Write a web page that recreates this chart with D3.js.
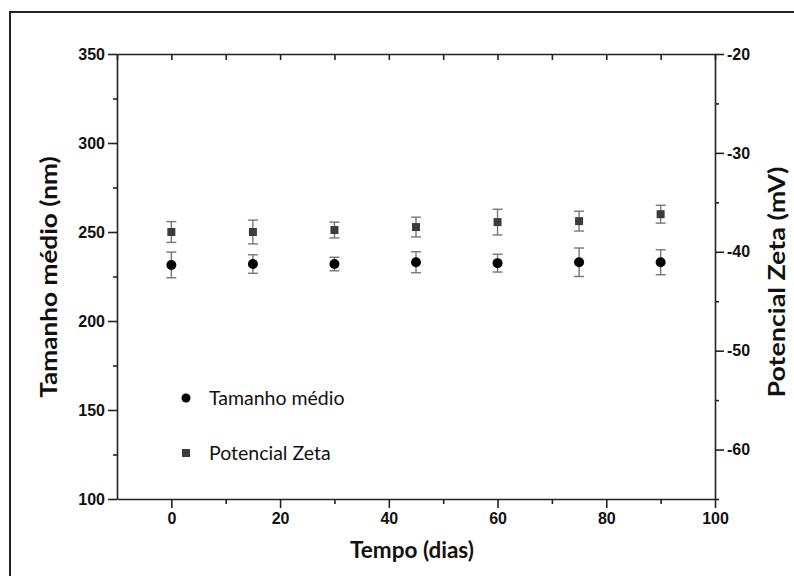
<!DOCTYPE html>
<html>
<head lang="pt">
    <meta charset="UTF-8">
    <title> Tamanho e potencial zeta </title>
    <script type="text/javascript" src="https://cdn.jsdelivr.net/npm/d3@7"></script>
    <style>
        body { margin: 0; background: #fff; }
    </style>
</head>
<body>
<div id="chart"></div>

<script>

    // data
    var dias       = [0, 15, 30, 45, 60, 75, 90];
    var tamanho    = [231.5, 232, 232, 233, 232.5, 233, 233];
    var tamanhoErr = [7.2, 5.2, 3.8, 5.9, 5, 8, 7];
    var zeta       = [-38.0, -38.0, -37.8, -37.5, -37.0, -36.9, -36.2];
    var zetaErr    = [1.05, 1.2, 0.8, 1.0, 1.3, 1.0, 0.9];

    var xTicks      = [0, 20, 40, 60, 80, 100];
    var xMinor      = [10, 30, 50, 70, 90];
    var yLeftTicks  = [100, 150, 200, 250, 300, 350];
    var yLeftMinor  = [125, 175, 225, 275, 325];
    var yRightTicks = [-60, -50, -40, -30, -20];
    var yRightMinor = [-65, -55, -45, -35, -25];

    var legendNames = ["Tamanho médio", "Potencial Zeta"];

    var W = 794, H = 576;
    var plotL = 117, plotR = 715, plotT = 54, plotB = 499;

    var svg = d3.select("#chart").append("svg")
            .attr("width", W)
            .attr("height", H);

    // outer frame (cut by the page edge on right and bottom)
    svg.append("rect")
            .attr("x", 10).attr("y", 12)
            .attr("width", 820).attr("height", 620)
            .style("fill", "none")
            .style("stroke", "#222")
            .style("stroke-width", 2);

    var x  = d3.scaleLinear().domain([-10, 100]).range([plotL, plotR]);
    var yL = d3.scaleLinear().domain([100, 350]).range([plotB, plotT]);
    var yR = d3.scaleLinear().domain([-65, -20]).range([plotB, plotT]);

    var fmt = function (d) { return String(d); };   // plain hyphen minus

    function styleAxis(g) {
        g.selectAll(".domain, .tick line").style("stroke", "#222").style("stroke-width", 1.6);
        g.selectAll(".tick text")
                .style("font-family", "'Liberation Sans', Arial, sans-serif")
                .style("font-weight", "bold")
                .style("font-size", "16px")
                .style("fill", "#111");
    }

    // minor ticks first
    svg.append("g").attr("transform", "translate(0," + plotB + ")")
            .call(d3.axisBottom(x).tickValues(xMinor).tickSize(5).tickFormat(""))
            .call(styleAxis)
            .select(".domain").remove();
    svg.append("g").attr("transform", "translate(" + plotL + ",0)")
            .call(d3.axisLeft(yL).tickValues(yLeftMinor).tickSize(4).tickFormat(""))
            .call(styleAxis)
            .select(".domain").remove();
    svg.append("g").attr("transform", "translate(" + plotR + ",0)")
            .call(d3.axisRight(yR).tickValues(yRightMinor).tickSize(4).tickFormat(""))
            .call(styleAxis)
            .select(".domain").remove();

    // top axis: inner ticks every 10 days, no labels
    svg.append("g").attr("transform", "translate(0," + plotT + ")")
            .call(d3.axisBottom(x).tickValues(d3.range(-10, 101, 10)).tickSize(6).tickSizeOuter(0).tickFormat(""))
            .call(styleAxis);

    // main axes
    svg.append("g").attr("transform", "translate(0," + plotB + ")")
            .call(d3.axisBottom(x).tickValues(xTicks).tickSize(9).tickSizeOuter(0).tickPadding(5).tickFormat(fmt))
            .call(styleAxis);
    svg.append("g").attr("transform", "translate(" + plotL + ",0)")
            .call(d3.axisLeft(yL).tickValues(yLeftTicks).tickSize(9).tickSizeOuter(0).tickPadding(3).tickFormat(fmt))
            .call(styleAxis);
    svg.append("g").attr("transform", "translate(" + plotR + ",0)")
            .call(d3.axisRight(yR).tickValues(yRightTicks).tickSize(9).tickSizeOuter(0).tickPadding(3).tickFormat(fmt))
            .call(styleAxis);

    // error bars + markers
    function errBars(vals, errs, y, cls) {
        var g = svg.append("g").attr("class", cls);
        var sel = g.selectAll("g").data(dias).enter().append("g");
        sel.append("line")
                .attr("x1", function (d) { return x(d); })
                .attr("x2", function (d) { return x(d); })
                .attr("y1", function (d, i) { return y(vals[i] - errs[i]); })
                .attr("y2", function (d, i) { return y(vals[i] + errs[i]); });
        sel.append("line")
                .attr("x1", function (d) { return x(d) - 5; })
                .attr("x2", function (d) { return x(d) + 5; })
                .attr("y1", function (d, i) { return y(vals[i] - errs[i]); })
                .attr("y2", function (d, i) { return y(vals[i] - errs[i]); });
        sel.append("line")
                .attr("x1", function (d) { return x(d) - 5; })
                .attr("x2", function (d) { return x(d) + 5; })
                .attr("y1", function (d, i) { return y(vals[i] + errs[i]); })
                .attr("y2", function (d, i) { return y(vals[i] + errs[i]); });
        g.selectAll("line").style("stroke", "#777").style("stroke-width", 1.4);
    }
    errBars(tamanho, tamanhoErr, yL, "err-tam");
    errBars(zeta, zetaErr, yR, "err-zeta");

    svg.append("g").selectAll("circle")
            .data(dias).enter().append("circle")
            .attr("cx", function (d) { return x(d); })
            .attr("cy", function (d, i) { return yL(tamanho[i]); })
            .attr("r", 5)
            .style("fill", "#000");

    svg.append("g").selectAll("rect")
            .data(dias).enter().append("rect")
            .attr("x", function (d) { return x(d) - 4; })
            .attr("y", function (d, i) { return yR(zeta[i]) - 4; })
            .attr("width", 8)
            .attr("height", 8)
            .style("fill", "#3c3c3c");

    // legend
    var leg = svg.append("g");
    leg.append("circle").attr("cx", 186).attr("cy", 398).attr("r", 4.5).style("fill", "#000");
    leg.append("rect").attr("x", 182).attr("y", 449).attr("width", 8).attr("height", 8).style("fill", "#3c3c3c");
    leg.selectAll("text").data(legendNames).enter().append("text")
            .attr("x", 209)
            .attr("y", function (d, i) { return 405 + i * 55; })
            .text(function (d) { return d; })
            .style("font-family", "Lato, 'Open Sans', sans-serif")
            .style("font-size", "19.5px")
            .style("fill", "#111");

    // axis titles (vertical ones stretched along the text, like the source image)
    var titleFont = "Lato, 'Open Sans', sans-serif";
    svg.append("text")
            .attr("x", 412).attr("y", 558)
            .attr("text-anchor", "middle")
            .text("Tempo (dias)")
            .style("font-family", titleFont).style("font-weight", "bold").style("font-size", "22.5px").style("fill", "#111");
    svg.append("text")
            .attr("transform", "translate(57,277) rotate(-90) scale(1.19,1)")
            .attr("text-anchor", "middle")
            .text("Tamanho médio (nm)")
            .style("font-family", titleFont).style("font-weight", "bold").style("font-size", "22px").style("fill", "#111");
    svg.append("text")
            .attr("transform", "translate(785,282) rotate(-90) scale(1.22,1)")
            .attr("text-anchor", "middle")
            .text("Potencial Zeta (mV)")
            .style("font-family", titleFont).style("font-weight", "bold").style("font-size", "22px").style("fill", "#111");

</script>
</body>
</html>
